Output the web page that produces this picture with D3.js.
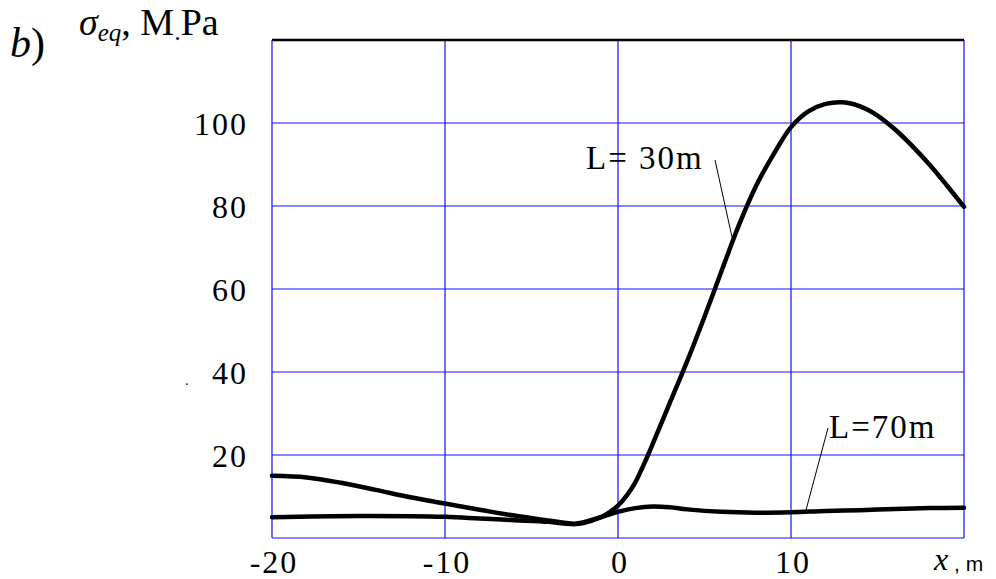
<!DOCTYPE html>
<html>
<head>
<meta charset="utf-8">
<script src="https://cdn.jsdelivr.net/npm/d3@7"></script>
<style>
  body { margin: 0; background: #fff; }
  text { font-family: "Liberation Serif", "Times New Roman", serif; fill: #000; }
</style>
</head>
<body>
<div id="chart"></div>
<script>
// data
const xTicks = [-20, -10, 0, 10];
const yTicks = [20, 40, 60, 80, 100];

const xL30 = [-20, -18, -16, -14, -12, -10, -8, -6, -4, -3, -2.5, -2, -1, -0.5, 0, 0.5, 1, 1.5, 2, 3, 4, 5, 6, 7, 8, 9, 10, 11, 12, 13, 14, 15, 16, 17, 18, 19, 20];
const yL30 = [15, 14.6, 13.3, 11.6, 9.8, 8.3, 6.8, 5.4, 4.2, 3.6, 3.4, 3.6, 5.0, 6.2, 7.8, 10.2, 13.4, 17.8, 22.6, 32.6, 42.6, 53.3, 64.5, 75.5, 85, 92.5, 99, 102.8, 104.6, 105, 104, 101.8, 98.5, 94.5, 90, 85, 79.8];

const xL70 = [-20, -15, -10, -8, -6, -4, -2.5, -1, 0, 1, 2, 3, 4, 6, 8, 10, 12, 14, 16, 18, 20];
const yL70 = [5.0, 5.3, 5.1, 4.7, 4.3, 3.9, 3.4, 5.0, 6.3, 7.2, 7.6, 7.4, 6.9, 6.3, 6.1, 6.2, 6.5, 6.7, 7.0, 7.2, 7.3];

const width = 996, height = 579;
const margin = { top: 40, right: 32, bottom: 41, left: 272 };

const svg = d3.select("#chart")
    .append("svg")
    .attr("width", width)
    .attr("height", height);

const x = d3.scaleLinear().domain([-20, 20]).range([margin.left, width - margin.right]);
const y = d3.scaleLinear().domain([0, 120]).range([height - margin.bottom, margin.top]);

const blue = "#1010ff";

// grid
svg.append("g")
    .selectAll("line")
    .data(xTicks.concat([20]))
    .join("line")
    .attr("x1", d => x(d)).attr("x2", d => x(d))
    .attr("y1", y(0)).attr("y2", y(120))
    .attr("stroke", blue).attr("stroke-width", 1.2);

svg.append("g")
    .selectAll("line")
    .data([0].concat(yTicks))
    .join("line")
    .attr("x1", x(-20)).attr("x2", x(20))
    .attr("y1", d => y(d)).attr("y2", d => y(d))
    .attr("stroke", blue).attr("stroke-width", 1.2);

// top border is black
svg.append("line")
    .attr("x1", x(-20)).attr("x2", x(20))
    .attr("y1", y(120)).attr("y2", y(120))
    .attr("stroke", "#000").attr("stroke-width", 2.5);

// tick labels
svg.append("g")
    .selectAll("text")
    .data(yTicks)
    .join("text")
    .attr("x", 248)
    .attr("y", d => y(d) + 12)
    .attr("text-anchor", "end")
    .attr("font-size", 32)
    .attr("letter-spacing", 2)
    .text(d => d);

svg.append("g")
    .selectAll("text")
    .data(xTicks)
    .join("text")
    .attr("x", d => x(d) + 2)
    .attr("y", 573)
    .attr("text-anchor", "middle")
    .attr("font-size", 32)
    .attr("letter-spacing", 2)
    .text(d => d);

// axis names
svg.append("text")
    .attr("x", 934).attr("y", 570)
    .attr("font-size", 32)
    .attr("font-style", "italic")
    .text("x");
svg.append("text")
    .attr("x", 954).attr("y", 571)
    .attr("font-size", 21)
    .style("font-family", "'Liberation Sans', Arial, sans-serif")
    .text(", m");

const b = svg.append("text")
    .attr("x", 10).attr("y", 57)
    .attr("font-size", 42);
b.append("tspan").attr("font-style", "italic").text("b");
b.append("tspan").text(")");

const ttl = svg.append("text")
    .attr("x", 79).attr("y", 35)
    .attr("font-size", 38);
ttl.append("tspan").attr("font-style", "italic").text("σ");
ttl.append("tspan").attr("font-style", "italic").attr("font-size", 25).attr("dy", 6).text("eq");
ttl.append("tspan").attr("dy", -6).text(", M");
ttl.append("tspan").attr("dy", 5).attr("font-size", 26).text(".");
ttl.append("tspan").attr("dy", -5).text("Pa");

// stray dot from the scan
svg.append("text")
    .attr("x", 185).attr("y", 385)
    .attr("font-size", 14)
    .text(".");

// curves
const line = d3.line()
    .x(d => x(d[0]))
    .y(d => y(d[1]))
    .curve(d3.curveCatmullRom.alpha(0.5));

svg.append("path")
    .datum(xL70.map((v, i) => [v, yL70[i]]))
    .attr("d", line)
    .attr("fill", "none")
    .attr("stroke", "#000")
    .attr("stroke-width", 4.5)
    .attr("stroke-linecap", "round");

svg.append("path")
    .datum(xL30.map((v, i) => [v, yL30[i]]))
    .attr("d", line)
    .attr("fill", "none")
    .attr("stroke", "#000")
    .attr("stroke-width", 4.5)
    .attr("stroke-linecap", "round");

// labels with leader lines
svg.append("text")
    .attr("x", 586).attr("y", 169)
    .attr("font-size", 33)
    .attr("letter-spacing", 2)
    .text("L= 30m");
svg.append("line")
    .attr("x1", 715).attr("y1", 160)
    .attr("x2", 732).attr("y2", 237)
    .attr("stroke", "#000").attr("stroke-width", 1);

svg.append("text")
    .attr("x", 829).attr("y", 438)
    .attr("font-size", 33)
    .attr("letter-spacing", 2)
    .text("L=70m");
svg.append("line")
    .attr("x1", 828).attr("y1", 428)
    .attr("x2", 806).attr("y2", 510)
    .attr("stroke", "#000").attr("stroke-width", 1);
</script>
</body>
</html>
